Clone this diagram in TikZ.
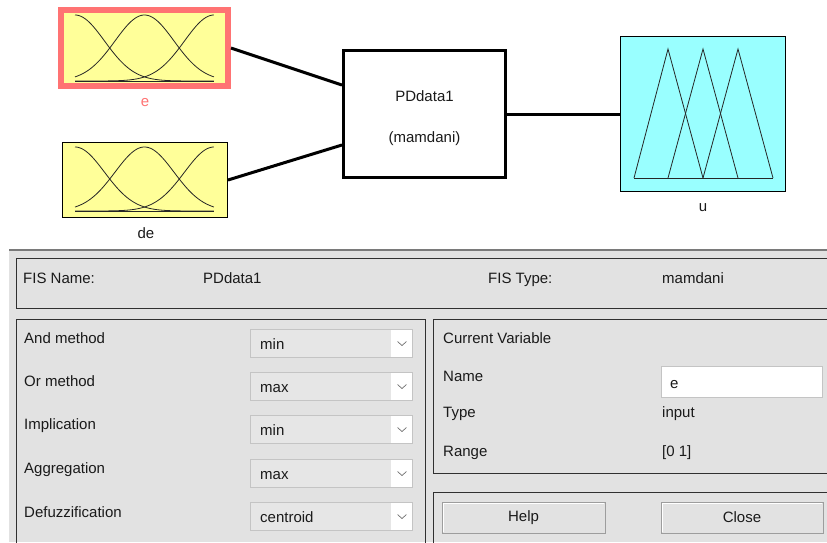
\documentclass[tikz,border=0pt]{standalone}
\usepackage{fontspec}
\setmainfont{Liberation Sans}
\usetikzlibrary{calc}
\definecolor{mfyellow}{HTML}{FFFF99}
\definecolor{mfred}{HTML}{FF7373}
\definecolor{mfcyan}{HTML}{99FFFF}
\definecolor{guibg}{HTML}{E2E2E2}
\definecolor{guiline}{HTML}{303030}
\definecolor{ddfill}{HTML}{E6E6E6}
\definecolor{ddline}{HTML}{C4C4C4}
\definecolor{txt}{HTML}{1A1A1A}
\definecolor{topline}{HTML}{7A7A7A}
\tikzset{
  mfbox/.style={draw=black, line width=1pt, inner sep=0pt},
  mfcurve/.style={draw=black!85, line width=0.8pt},
  conn/.style={draw=black, line width=3pt},
  lbl/.style={font=\fontsize{15}{18}\selectfont, text=txt, inner sep=0pt},
  panel/.style={draw=guiline, line width=1pt},
  btn/.style={draw=ddline!80!black, fill=guibg, line width=1pt, inner sep=0pt, font=\fontsize{15}{18}\selectfont, text=txt}
}
\begin{document}
\begin{tikzpicture}[x=1pt,y=-1pt]
\useasboundingbox (0,0) rectangle (827,542);
\clip (0,0) rectangle (827,542);
\fill[white] (0,0) rectangle (827,542);

% ---------- input e ----------
\node[mfbox, draw=mfred, fill=mfyellow, line width=6pt, minimum width=167pt, minimum height=76pt] (e) at (144.5,48) {};
\foreach \c in {0,0.5,1}
  \draw[mfcurve] plot[domain=0:1, samples=80, variable=\t] ({75+139*\t},{81-66*exp(((\t-\c)^2)/(-0.09014))});
\draw[mfcurve] (75,81) -- (214,81);
\node[lbl, text=mfred] (elab) at (145,103) {e};

% ---------- input de ----------
\node[mfbox, fill=mfyellow, minimum width=165pt, minimum height=75pt] (de) at (145,180) {};
\foreach \c in {0,0.5,1}
  \draw[mfcurve] plot[domain=0:1, samples=80, variable=\t] ({75+139*\t},{211-64*exp(((\t-\c)^2)/(-0.09014))});
\draw[mfcurve] (75,211) -- (214,211);
\node[lbl] (delab) at (146,233) {de};

% ---------- FIS block ----------
\node[draw=black, fill=white, line width=3pt, minimum width=162pt, minimum height=127pt, inner sep=0pt] (main) at (424.5,114) {};
\node[lbl] (mname) at (424.5,96) {PDdata1};
\node[lbl] (mtype) at (424.5,139) {(mamdani)};

% ---------- output u ----------
\node[mfbox, fill=mfcyan, minimum width=165pt, minimum height=155pt] (u) at (703,114) {};
\draw[mfcurve] (634,178) -- (668,49) -- (703,178);
\draw[mfcurve] (668,178) -- (703,49) -- (738,178);
\draw[mfcurve] (703,178) -- (738,49) -- (773,178);
\draw[mfcurve] (634,178) -- (773,178);
\node[lbl] (ulab) at (703,208) {u};

% ---------- connectors ----------
\draw[conn] (e.east) -- ($(main.west)+(0,-29)$);
\draw[conn] (de.east) -- ($(main.west)+(0,31)$);
\draw[conn] (main.east) -- (main.east -| u.west);

% ---------- GUI panel ----------
\fill[guibg] (9,250) rectangle (827,542);
\draw[topline, line width=1.5pt] (9,250) -- (827,250);

\draw[panel] (16.5,258.5) rectangle (840,308.5);
\node[lbl, anchor=base west] (fisname) at (23,283) {FIS Name:};
\node[lbl, anchor=base west] (fisnamev) at (203,283) {PDdata1};
\node[lbl, anchor=base west] (fistype) at (488,283) {FIS Type:};
\node[lbl, anchor=base west] (fistypev) at (662,283) {mamdani};

\draw[panel] (16.5,319.5) rectangle (425.5,560);
\draw[panel] (433.5,319.5) rectangle (840,473.5);
\draw[panel] (433.5,492.5) rectangle (840,560);

% left labels
\node[lbl, anchor=base west] (l1) at (24,343) {And method};
\node[lbl, anchor=base west] (l2) at (24,386) {Or method};
\node[lbl, anchor=base west] (l3) at (24,429.5) {Implication};
\node[lbl, anchor=base west] (l4) at (24,473.5) {Aggregation};
\node[lbl, anchor=base west] (l5) at (24,517) {Defuzzification};

% dropdowns
\foreach \y/\v [count=\i] in {329/min, 372/max, 415/min, 459/max, 502/centroid} {
  \fill[ddfill] (250,\y) rectangle (413,\y+29);
  \fill[white] (391,\y) rectangle (413,\y+29);
  \draw[ddline, line width=1pt] (250.5,\y+0.5) rectangle (412.5,\y+28.5);
  \draw[black!55, line width=0.7pt] (397.5,\y+12.5) -- (402,\y+16.5) -- (406.5,\y+12.5);
  \node[lbl, anchor=base west] (dd\i) at (260,\y+20) {\v};
}

% current variable
\node[lbl, anchor=base west] (cv) at (443,343) {Current Variable};
\node[lbl, anchor=base west] (nm) at (443,381) {Name};
\node[lbl, anchor=base west] (ty) at (443,417) {Type};
\node[lbl, anchor=base west] (rg) at (443,456) {Range};
\fill[white] (661,366) rectangle (823,398);
\draw[ddline, line width=1pt] (661.5,366.5) rectangle (822.5,397.5);
\node[lbl, anchor=base west] (nmv) at (670,388) {e};
\node[lbl, anchor=base west] (tyv) at (662,417) {input};
\node[lbl, anchor=base west] (rgv) at (662,456) {[0 1]};

% buttons
\node[btn, minimum width=163pt, minimum height=31pt] (help) at (523.5,517.5) {Help};
\node[btn, minimum width=162pt, minimum height=31pt] (close) at (742,517.5) {Close};
\draw[white, line width=1pt] ($(help.south west)+(1.5,-1.5)$) |- ($(help.north east)+(-1.5,1.5)$);
\draw[white, line width=1pt] ($(close.south west)+(1.5,-1.5)$) |- ($(close.north east)+(-1.5,1.5)$);
\end{tikzpicture}
\end{document}
